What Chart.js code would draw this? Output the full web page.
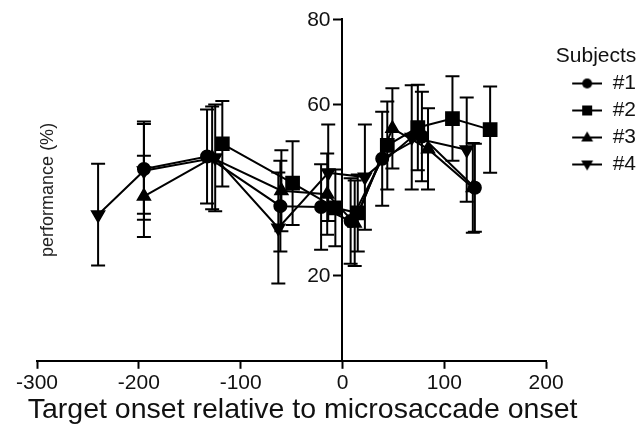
<!DOCTYPE html>
<html lang="en">
<head>
    <meta charset="UTF-8">
    <title>Performance vs target onset</title>
    <script src="https://cdn.jsdelivr.net/npm/chart.js"></script>
    <style>
        body { margin: 0; background: #fff; }
    </style>
</head>
<body>
    <canvas id="myChart" width="642" height="448"></canvas>
    <script>
        // Subject data: target onset (ms), performance (%), error (+/-)
        const subjectNames = ['#1', '#2', '#3', '#4'];

        const s1X = [-195, -133, -61, -21, 8, 39, 78, 130];
        const s1Y = [44.9, 47.8, 36.2, 36.0, 32.7, 47.3, 52.5, 40.5];
        const s1Err = [10.5, 11, 10.6, 10, 10, 11, 10.5, 10.3];

        const s2X = [-118, -49, -7, 15, 44, 74, 108, 145];
        const s2Y = [50.8, 41.6, 35.8, 34.6, 50.4, 54.6, 56.7, 54.1];
        const s2Err = [10, 9.8, 9, 9, 10.3, 10, 9.9, 10.1];

        const s3X = [-195, -128, -60, -15, 12, 49, 84, 128];
        const s3Y = [38.5, 47.5, 39.8, 39.0, 32.2, 54.4, 49.6, 40.5];
        const s3Err = [9.5, 12, 9.5, 9.5, 10, 9.4, 9.5, 10.5];

        const s4X = [-240, -195, -125, -63, -14, 22, 68, 122];
        const s4Y = [34.2, 44.5, 47.5, 31.1, 44.0, 43.0, 52.3, 49.4];
        const s4Err = [11.9, 11.5, 12.5, 13, 11.3, 12.3, 12.2, 12.2];

        const xTicksStep = 100;
        const yTicks = [20, 60, 80];

        const FONT = "'Liberation Sans', Arial, sans-serif";
        Chart.defaults.font.family = FONT;
        Chart.defaults.color = '#111';

        function toPoints(xs, ys) {
            return xs.map((x, i) => ({ x: x, y: ys[i] }));
        }

        // legend icon: short line with the marker in the middle (blank strip on the left)
        function legendIcon(shape) {
            const c = document.createElement('canvas');
            c.width = 50; c.height = 16;
            const g = c.getContext('2d');
            const cx = 35;
            g.fillStyle = '#000';
            g.strokeStyle = '#000';
            g.lineWidth = 2;
            g.beginPath(); g.moveTo(20, 8); g.lineTo(50, 8); g.stroke();
            g.beginPath();
            if (shape === 'circle') {
                g.arc(cx, 8, 5, 0, Math.PI * 2);
            } else if (shape === 'rect') {
                g.rect(cx - 5, 3, 10, 10);
            } else if (shape === 'up') {
                g.moveTo(cx, 2); g.lineTo(cx + 6, 12); g.lineTo(cx - 6, 12); g.closePath();
            } else {
                g.moveTo(cx, 14); g.lineTo(cx + 6, 4); g.lineTo(cx - 6, 4); g.closePath();
            }
            g.fill();
            return c;
        }
        const legendIcons = [legendIcon('circle'), legendIcon('rect'), legendIcon('up'), legendIcon('down')];

        function makeDataset(i, xs, ys, errs, style, radius, rotation) {
            return {
                label: subjectNames[i],
                data: toPoints(xs, ys),
                errors: errs,
                showLine: true,
                borderColor: '#000',
                backgroundColor: '#000',
                borderWidth: 2,
                pointStyle: style,
                pointRadius: radius,
                pointRotation: rotation,
                pointHoverRadius: radius,
                tension: 0
            };
        }

        // error bars drawn under the markers
        const errorBars = {
            id: 'errorBars',
            beforeDatasetsDraw(chart) {
                const ctx = chart.ctx;
                const yScale = chart.scales.y;
                ctx.save();
                ctx.strokeStyle = '#000';
                ctx.lineWidth = 2;
                chart.data.datasets.forEach((ds, i) => {
                    const meta = chart.getDatasetMeta(i);
                    meta.data.forEach((pt, j) => {
                        const v = ds.data[j].y;
                        const e = ds.errors[j];
                        const top = yScale.getPixelForValue(v + e);
                        const bot = yScale.getPixelForValue(v - e);
                        ctx.beginPath();
                        ctx.moveTo(pt.x, top); ctx.lineTo(pt.x, bot);
                        ctx.moveTo(pt.x - 7, top); ctx.lineTo(pt.x + 7, top);
                        ctx.moveTo(pt.x - 7, bot); ctx.lineTo(pt.x + 7, bot);
                        ctx.stroke();
                    });
                });
                ctx.restore();
            }
        };

        // axis texts: the y axis sits at x = 0, so its labels and both titles are placed by hand
        const axisText = {
            id: 'axisText',
            afterDraw(chart) {
                const ctx = chart.ctx;
                const area = chart.chartArea;
                const xScale = chart.scales.x;
                const yScale = chart.scales.y;
                const x0 = xScale.getPixelForValue(0);
                ctx.save();
                ctx.fillStyle = '#111';
                ctx.font = '21px ' + FONT;
                ctx.textAlign = 'right';
                ctx.textBaseline = 'middle';
                yTicks.forEach(v => ctx.fillText(String(v), x0 - 12, yScale.getPixelForValue(v) + 1));

                // x title
                ctx.font = '28.5px ' + FONT;
                ctx.textAlign = 'center';
                ctx.fillText('Target onset relative to microsaccade onset', (area.left + area.right) / 2 + 11, area.bottom + 49);

                // y title
                ctx.translate(area.left + 11, (area.top + area.bottom) / 2);
                ctx.rotate(-Math.PI / 2);
                ctx.font = '18px ' + FONT;
                ctx.fillStyle = '#222';
                ctx.fillText('performance (%)', 0, 0);
                ctx.restore();
            }
        };

        const ctx = document.getElementById('myChart').getContext('2d');
        const myChart = new Chart(ctx, {
            type: 'scatter',
            data: {
                datasets: [
                    makeDataset(0, s1X, s1Y, s1Err, 'circle', 6, 0),
                    makeDataset(1, s2X, s2Y, s2Err, 'rect', 9, 0),
                    makeDataset(2, s3X, s3Y, s3Err, 'triangle', 7, 0),
                    makeDataset(3, s4X, s4Y, s4Err, 'triangle', 7, 180)
                ]
            },
            options: {
                responsive: false,
                animation: false,
                layout: { padding: { left: 37, top: 19, right: -4, bottom: 50 } },
                scales: {
                    x: {
                        type: 'linear',
                        position: 'bottom',
                        min: -300,
                        max: 200,
                        grid: { drawOnChartArea: false, drawTicks: true, tickLength: 8, tickWidth: 2, tickColor: '#000' },
                        border: { display: true, color: '#000', width: 2 },
                        ticks: { stepSize: xTicksStep, color: '#111', font: { size: 21 }, padding: 2 }
                    },
                    y: {
                        type: 'linear',
                        position: { x: 0 },
                        min: 0,
                        max: 80,
                        afterBuildTicks: (scale) => { scale.ticks = yTicks.map(v => ({ value: v })); },
                        grid: { drawOnChartArea: false, drawTicks: true, tickLength: 8, tickWidth: 2, tickColor: '#000' },
                        border: { display: true, color: '#000', width: 2 },
                        ticks: { display: false }
                    }
                },
                plugins: {
                    tooltip: { enabled: false },
                    legend: {
                        position: 'right',
                        align: 'start',
                        title: {
                            display: true,
                            text: 'Subjects',
                            color: '#111',
                            font: { size: 21, lineHeight: 1 },
                            padding: { top: 27, bottom: 0 }
                        },
                        labels: {
                            usePointStyle: true,
                            pointStyleWidth: 50,
                            boxHeight: 16,
                            padding: 6,
                            color: '#111',
                            font: { size: 21 },
                            generateLabels: (chart) => {
                                const items = Chart.defaults.plugins.legend.labels.generateLabels(chart);
                                items.forEach((it, i) => { it.pointStyle = legendIcons[i]; it.rotation = 0; });
                                return items;
                            }
                        }
                    }
                }
            },
            plugins: [errorBars, axisText]
        });
    </script>
</body>
</html>
